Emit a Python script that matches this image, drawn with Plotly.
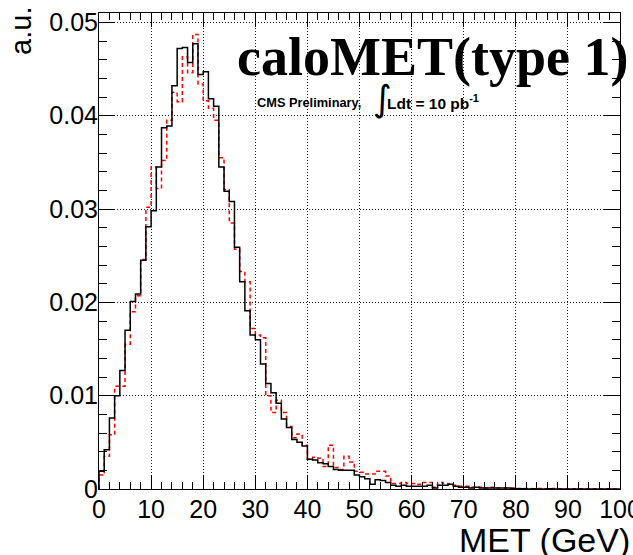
import plotly.graph_objects as go

# Bin edges (1 GeV bins, 0-100 GeV)
bin_edges = list(range(0, 101))

# Black solid histogram (normalised, a.u.)
black_vals = [
    0.0019, 0.0042, 0.0076, 0.0100, 0.0127, 0.0170, 0.0201, 0.0209, 0.0245, 0.0281,
    0.0298, 0.0345, 0.0387, 0.0389, 0.0432, 0.0472, 0.0473, 0.0457, 0.0477, 0.0444,
    0.0447, 0.0418, 0.0410, 0.0345, 0.0319, 0.0308, 0.0259, 0.0222, 0.0191, 0.0165,
    0.0160, 0.0134, 0.0113, 0.0103, 0.0092, 0.0075, 0.0066, 0.0053, 0.0050, 0.0046,
    0.0032, 0.0031, 0.0028, 0.0027, 0.0024, 0.0021, 0.0020, 0.0020, 0.0020, 0.0015,
    0.0013, 0.0011, 0.0005, 0.0010, 0.0009, 0.0007, 0.0004, 0.0003, 0.0004, 0.0003,
    0.0003, 0.0003, 0.0003, 0.0004, 0.0001, 0.0004, 0.0004, 0.0005, 0.0003, 0.0002,
    0.0002, 0.0001, 0.0002, 0.0001, 0.0001, 0.0001, 0.0001, 0.0001, 0.0001, 0.00005,
    0.00003, 0.00003, 0.0, 0.00003, 0.0, 0.0, 0.00003, 0.0, 0.0, 0.0,
    0.0, 0.0, 0.0, 0.0, 0.0, 0.0, 0.0, 0.0, 0.0, 0.0,
]

# Red dashed histogram (normalised, a.u.)
red_vals = [
    0.0015, 0.0035, 0.0058, 0.0110, 0.0110, 0.0155, 0.0190, 0.0207, 0.0246, 0.0302,
    0.0345, 0.0322, 0.0352, 0.0395, 0.0425, 0.0415, 0.0463, 0.0446, 0.0487, 0.0434,
    0.0416, 0.0408, 0.0395, 0.0355, 0.0321, 0.0285, 0.0257, 0.0233, 0.0222, 0.0172,
    0.0165, 0.0162, 0.0100, 0.0082, 0.0095, 0.0082, 0.0067, 0.0055, 0.0059, 0.0047,
    0.0032, 0.0034, 0.0033, 0.0024, 0.0047, 0.0023, 0.0021, 0.0035, 0.0029, 0.0019,
    0.0018, 0.0016, 0.0016, 0.0019, 0.0019, 0.0014, 0.0006, 0.0006, 0.0007, 0.0006,
    0.0006, 0.0005, 0.0007, 0.0007, 0.0002, 0.0007, 0.0006, 0.0005, 0.0004, 0.0003,
    0.0003, 0.0002, 0.0002, 0.0002, 0.0001, 0.0002, 0.0001, 0.0001, 0.0001, 0.0001,
    0.00005, 0.00005, 0.00005, 0.00003, 0.00005, 0.00003, 0.00003, 0.00005, 0.00003, 0.00003,
    0.00003, 0.00003, 0.00003, 0.0, 0.00003, 0.00003, 0.0, 0.00003, 0.0, 0.0,
]

x_ticks = list(range(0, 101, 10))
y_ticks = [0, 0.01, 0.02, 0.03, 0.04, 0.05]
y_tick_text = ["0", "0.01", "0.02", "0.03", "0.04", "0.05"]


def step_xy(edges, vals):
    xs = [edges[0]] + edges[:-1] + [edges[-1]]
    ys = [0.0] + list(vals) + [vals[-1]]
    return xs, ys


fig = go.Figure()
bx, by = step_xy(bin_edges, black_vals)
rx, ry = step_xy(bin_edges, red_vals)
fig.add_trace(go.Scatter(x=rx, y=ry, mode="lines", line_shape="hv",
                         line=dict(color="#ff0000", width=1.5, dash="4px,3px"),
                         showlegend=False, hoverinfo="skip"))
fig.add_trace(go.Scatter(x=bx, y=by, mode="lines", line_shape="hv",
                         line=dict(color="black", width=1.5),
                         showlegend=False, hoverinfo="skip"))

tickfont = dict(family="Liberation Sans, Arial, sans-serif", size=25, color="black")
grid_dash = "1px,2px"

fig.update_xaxes(
    range=[0, 100], tickmode="array", tickvals=x_ticks, ticktext=[str(v) for v in x_ticks],
    ticks="inside", ticklen=14, tickwidth=1, tickcolor="black",
    minor=dict(ticks="inside", ticklen=7, dtick=2, tickcolor="black", showgrid=False),
    showline=True, linecolor="black", linewidth=1, mirror="ticks",
    showgrid=True, gridcolor="#222222", griddash=grid_dash, gridwidth=1,
    zeroline=False, tickfont=tickfont, ticklabeloverflow="allow",
    ticklabelstandoff=-2, automargin=False,
)
fig.update_yaxes(
    range=[0, 0.051], tickmode="array", tickvals=y_ticks, ticktext=y_tick_text,
    ticks="inside", ticklen=16, tickwidth=1, tickcolor="black",
    minor=dict(ticks="inside", ticklen=8, dtick=0.002, tickcolor="black", showgrid=False),
    showline=True, linecolor="black", linewidth=1, mirror="ticks",
    showgrid=True, gridcolor="#222222", griddash=grid_dash, gridwidth=1,
    zeroline=False, tickfont=tickfont, ticklabeloverflow="allow",
    ticklabelstandoff=-5, automargin=False,
)

annotations = [
    dict(text="<b>caloMET(type 1)</b>", x=1.020, y=0.908, xref="paper", yref="paper",
         xanchor="right", yanchor="middle", showarrow=False,
         font=dict(family="Liberation Serif, Times New Roman, serif", size=54, color="black")),
    dict(text="<b>CMS Preliminary,</b>", x=0.2994, y=0.813, xref="paper", yref="paper",
         xanchor="left", yanchor="middle", showarrow=False,
         font=dict(family="Liberation Sans, Arial, sans-serif", size=12.8, color="black")),
    dict(text="\u222b", x=0.545, y=0.821, xref="paper", yref="paper",
         xanchor="center", yanchor="middle", showarrow=False,
         font=dict(family="DejaVu Sans, sans-serif", size=36, color="black")),
    dict(text="<b>Ldt = 10 pb<sup>-1</sup></b>", x=0.548, y=0.813, xref="paper", yref="paper",
         xanchor="left", yanchor="middle", showarrow=False,
         font=dict(family="Liberation Sans, Arial, sans-serif", size=15.5, color="black")),
    dict(text="MET (GeV)", x=1.023, y=-0.107, xref="paper", yref="paper",
         xanchor="right", yanchor="middle", showarrow=False,
         font=dict(family="Liberation Sans, Arial, sans-serif", size=34, color="black")),
    dict(text="a.u.", x=-0.150, y=0.962, xref="paper", yref="paper",
         xanchor="center", yanchor="middle", showarrow=False, textangle=-90,
         font=dict(family="Liberation Sans, Arial, sans-serif", size=29, color="black")),
]

fig.update_layout(
    width=633, height=555,
    margin=dict(l=99, r=13, t=13, b=66, autoexpand=False),
    paper_bgcolor="white", plot_bgcolor="white",
    annotations=annotations,
    showlegend=False,
)

fig.write_html("out.html")
